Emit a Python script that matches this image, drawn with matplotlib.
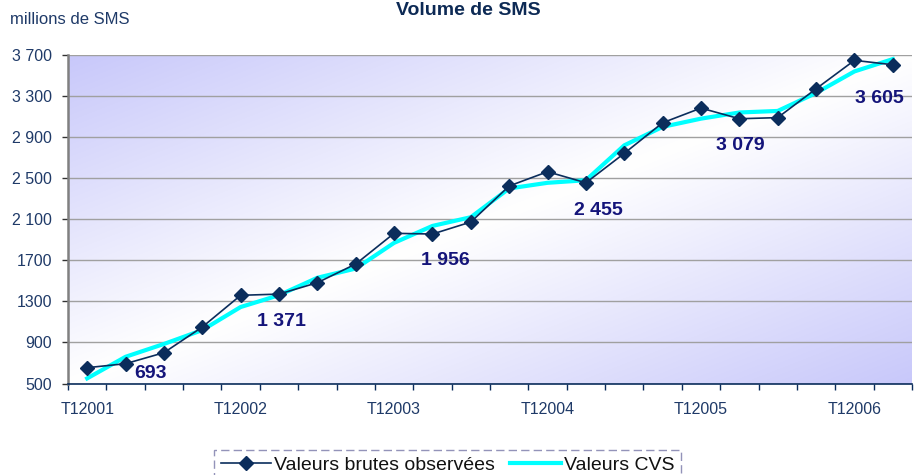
import numpy as np
import matplotlib.pyplot as plt
from matplotlib.colors import to_rgb

plt.rcParams["font.family"] = ["Liberation Sans", "DejaVu Sans"]

# quarters T1 2001 .. T2 2006
quarter_labels = ["T12001", "T12002", "T12003", "T12004", "T12005", "T12006"]
brutes = [654, 693, 800, 1050, 1359, 1371, 1482, 1664, 1963, 1956, 2073, 2424,
          2563, 2455, 2742, 3040, 3183, 3079, 3090, 3371, 3648, 3605]
cvs = [550, 760, 885, 1020, 1245, 1360, 1530, 1620, 1870, 2035, 2120, 2400,
       2455, 2480, 2820, 3000, 3080, 3140, 3155, 3330, 3540, 3660]
labelled = {1: "693", 5: "1 371", 9: "1 956", 13: "2 455", 17: "3 079", 21: "3 605"}
label_offsets = {1: (18, -7), 5: (2, -20), 9: (9, -19), 13: (9, -20), 17: (1, -19), 21: (-10, -24)}
yticks = [500, 900, 1300, 1700, 2100, 2500, 2900, 3300, 3700]
yticklabels = ["500", "900", "1300", "1700", "2 100", "2 500", "2 900", "3 300", "3 700"]

navy = "#0B2D5C"
tick_col = "#1F3A68"
lab_col = "#14147A"

fig = plt.figure(figsize=(9.2, 4.75), dpi=100)
ax = fig.add_axes((68 / 920, 1 - 383.5 / 475, 844 / 920, 328.5 / 475))

n = len(brutes)
x = np.arange(n)
ax.set_xlim(-0.5, n - 0.5)
ax.set_ylim(500, 3700)

# diagonal lavender -> white -> lavender background
u, v = np.meshgrid(np.linspace(0, 1, 300), np.linspace(0, 1, 200))
mix = np.abs(u + v - 1.0)
lav = np.array(to_rgb("#C8C8FA"))
img = 1.0 - mix[..., None] * (1.0 - lav)
ax.imshow(img, extent=(0, 1, 0, 1), transform=ax.transAxes, aspect="auto",
          zorder=0, interpolation="bilinear")

ax.set_yticks(yticks)
ax.set_yticklabels(yticklabels)
ax.grid(axis="y", color="#A0A0A0", lw=1.0, zorder=1)

ax.set_xticks(np.arange(n + 1) - 0.5)
ax.set_xticklabels([])
ax.set_xticks(x[::4], minor=True)
ax.set_xticklabels(quarter_labels, minor=True)
ax.tick_params(axis="x", which="major", length=4, color=navy, width=1)
ax.tick_params(axis="x", which="minor", length=0, pad=13, labelsize=11.5,
               labelcolor=tick_col)
ax.tick_params(axis="y", length=4.5, width=1, color="#333333", pad=7,
               labelsize=11.5, labelcolor=tick_col)

for s in ["top", "right"]:
    ax.spines[s].set_visible(False)
ax.spines["left"].set_color("#808080")
ax.spines["left"].set_linewidth(1.8)
ax.spines["bottom"].set_color(navy)
ax.spines["bottom"].set_linewidth(1.2)

ax.plot(x, brutes, color=navy, lw=1.2, marker="D", ms=7, mec=navy, mfc=navy,
        zorder=4, clip_on=False, label="Valeurs brutes observées")
ax.plot(x, cvs, color="#00FFFF", lw=3, zorder=3, clip_on=False,
        label="Valeurs CVS")

for i, txt in labelled.items():
    ax.annotate(txt, (x[i], brutes[i]), xytext=label_offsets[i],
                textcoords="offset points", ha="center", va="center",
                fontsize=14, fontweight="bold", color=lab_col, zorder=5)

fig.text(10 / 920, 1 - 20 / 475, "millions de SMS", fontsize=12, color=tick_col,
         va="center", ha="left")
fig.text(468 / 920, 1 - 2 / 475, "Volume de SMS", fontsize=14, fontweight="bold",
         color="#0D2A55", ha="center", va="top")

leg = fig.legend(loc="upper center", bbox_to_anchor=(447.5 / 920, 1 - 440 / 475),
                 ncol=2, fontsize=14, handlelength=2.6, handletextpad=0.15,
                 columnspacing=0.8, fancybox=False, borderpad=0.35,
                 frameon=True)
fr = leg.get_frame()
fr.set_edgecolor("#7878A8")
fr.set_linestyle((0, (6, 3)))
fr.set_linewidth(1)
for t in leg.get_texts():
    t.set_color("#111111")

fig.savefig("out.png", dpi=100, facecolor="white")
